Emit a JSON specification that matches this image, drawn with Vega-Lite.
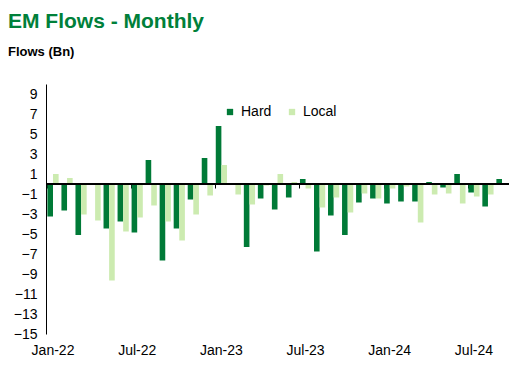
{
  "$schema": "https://vega.github.io/schema/vega-lite/v6.json",
  "width": 463,
  "height": 250,
  "padding": {"left": 8, "top": 11, "right": 15, "bottom": 5},
  "title": {
    "text": "EM Flows - Monthly",
    "subtitle": "Flows (Bn)",
    "anchor": "start",
    "frame": "bounds",
    "font": "Liberation Sans",
    "fontSize": 21,
    "fontWeight": "bold",
    "color": "#00803A",
    "subtitleFont": "Liberation Sans",
    "subtitleFontSize": 13,
    "subtitleFontWeight": "bold",
    "subtitleColor": "#000000",
    "subtitlePadding": 14,
    "offset": 25
  },
  "data": {
    "values": [
      {"month": "Jan-22", "series": "Hard", "value": -3.25}, {"month": "Jan-22", "series": "Local", "value": 1.0},
      {"month": "Feb-22", "series": "Hard", "value": -2.65}, {"month": "Feb-22", "series": "Local", "value": 0.6},
      {"month": "Mar-22", "series": "Hard", "value": -5.1}, {"month": "Mar-22", "series": "Local", "value": -3.05},
      {"month": "Apr-22", "series": "Hard", "value": 0}, {"month": "Apr-22", "series": "Local", "value": -3.65},
      {"month": "May-22", "series": "Hard", "value": -4.45}, {"month": "May-22", "series": "Local", "value": -9.65},
      {"month": "Jun-22", "series": "Hard", "value": -3.75}, {"month": "Jun-22", "series": "Local", "value": -4.75},
      {"month": "Jul-22", "series": "Hard", "value": -4.85}, {"month": "Jul-22", "series": "Local", "value": -3.35},
      {"month": "Aug-22", "series": "Hard", "value": 2.4}, {"month": "Aug-22", "series": "Local", "value": -2.15},
      {"month": "Sep-22", "series": "Hard", "value": -7.65}, {"month": "Sep-22", "series": "Local", "value": -3.75},
      {"month": "Oct-22", "series": "Hard", "value": -4.45}, {"month": "Oct-22", "series": "Local", "value": -5.65},
      {"month": "Nov-22", "series": "Hard", "value": -1.55}, {"month": "Nov-22", "series": "Local", "value": -3.05},
      {"month": "Dec-22", "series": "Hard", "value": 2.6}, {"month": "Dec-22", "series": "Local", "value": -1.15},
      {"month": "Jan-23", "series": "Hard", "value": 5.8}, {"month": "Jan-23", "series": "Local", "value": 1.9},
      {"month": "Feb-23", "series": "Hard", "value": 0.1}, {"month": "Feb-23", "series": "Local", "value": -1.05},
      {"month": "Mar-23", "series": "Hard", "value": -6.3}, {"month": "Mar-23", "series": "Local", "value": -2.05},
      {"month": "Apr-23", "series": "Hard", "value": -1.45}, {"month": "Apr-23", "series": "Local", "value": -0.15},
      {"month": "May-23", "series": "Hard", "value": -2.55}, {"month": "May-23", "series": "Local", "value": 1.0},
      {"month": "Jun-23", "series": "Hard", "value": -1.35}, {"month": "Jun-23", "series": "Local", "value": 0.2},
      {"month": "Jul-23", "series": "Hard", "value": 0.5}, {"month": "Jul-23", "series": "Local", "value": -0.45},
      {"month": "Aug-23", "series": "Hard", "value": -6.75}, {"month": "Aug-23", "series": "Local", "value": -2.35},
      {"month": "Sep-23", "series": "Hard", "value": -3.15}, {"month": "Sep-23", "series": "Local", "value": -1.35},
      {"month": "Oct-23", "series": "Hard", "value": -5.1}, {"month": "Oct-23", "series": "Local", "value": -2.85},
      {"month": "Nov-23", "series": "Hard", "value": -1.85}, {"month": "Nov-23", "series": "Local", "value": -0.95},
      {"month": "Dec-23", "series": "Hard", "value": -1.45}, {"month": "Dec-23", "series": "Local", "value": -1.45},
      {"month": "Jan-24", "series": "Hard", "value": -1.95}, {"month": "Jan-24", "series": "Local", "value": -0.45},
      {"month": "Feb-24", "series": "Hard", "value": -1.75}, {"month": "Feb-24", "series": "Local", "value": -0.25},
      {"month": "Mar-24", "series": "Hard", "value": -1.75}, {"month": "Mar-24", "series": "Local", "value": -3.85},
      {"month": "Apr-24", "series": "Hard", "value": 0.2}, {"month": "Apr-24", "series": "Local", "value": -1.05},
      {"month": "May-24", "series": "Hard", "value": -0.35}, {"month": "May-24", "series": "Local", "value": -0.95},
      {"month": "Jun-24", "series": "Hard", "value": 1.0}, {"month": "Jun-24", "series": "Local", "value": -1.95},
      {"month": "Jul-24", "series": "Hard", "value": -0.85}, {"month": "Jul-24", "series": "Local", "value": -1.25},
      {"month": "Aug-24", "series": "Hard", "value": -2.25}, {"month": "Aug-24", "series": "Local", "value": -1.05},
      {"month": "Sep-24", "series": "Hard", "value": 0.5}, {"month": "Sep-24", "series": "Local", "value": 0}
    ]
  },
  "layer": [
    {
      "mark": {"type": "bar"},
      "encoding": {
        "x": {
          "field": "month",
          "type": "ordinal",
          "sort": null,
          "scale": {"paddingInner": 0.2, "paddingOuter": 0.1},
          "axis": {
            "orient": "bottom",
            "values": ["Jan-22", "Jul-22", "Jan-23", "Jul-23", "Jan-24", "Jul-24"],
            "domain": false,
            "ticks": false,
            "labelAngle": 0,
            "labelFontSize": 14,
            "labelPadding": 9,
            "labelColor": "#000000",
            "title": null
          }
        },
        "xOffset": {"field": "series", "sort": ["Hard", "Local"]},
        "y": {
          "field": "value",
          "type": "quantitative",
          "scale": {"domain": [-15, 10], "nice": false, "zero": false},
          "axis": {
            "values": [-15, -13, -11, -9, -7, -5, -3, -1, 1, 3, 5, 7, 9],
            "tickCount": 30,
            "title": null,
            "grid": false,
            "ticks": false,
            "domainColor": "#000000",
            "domainWidth": 1,
            "labelFontSize": 14,
            "labelPadding": 9,
            "labelColor": "#000000",
            "labelOverlap": false,
            "minExtent": 38,
            "maxExtent": 38
          }
        },
        "color": {
          "field": "series",
          "type": "nominal",
          "scale": {"domain": ["Hard", "Local"], "range": ["#007A37", "#CCEBB0"]},
          "legend": {
            "orient": "none",
            "legendX": 177,
            "legendY": 21,
            "direction": "horizontal",
            "title": null,
            "symbolType": "square",
            "symbolSize": 40,
            "symbolStrokeWidth": 0,
            "labelFontSize": 14,
            "labelColor": "#000000",
            "labelOffset": 4,
            "columnPadding": 13
          }
        }
      }
    },
    {
      "mark": {"type": "rule", "color": "#000000", "strokeWidth": 1.3},
      "encoding": {"y": {"datum": 0}}
    },
    {
      "mark": {"type": "point", "opacity": 0},
      "encoding": {
        "x": {
          "field": "month",
          "type": "ordinal",
          "sort": null,
          "axis": {
            "orient": "top",
            "offset": -100,
            "values": ["Jan-22", "Jul-22", "Jan-23", "Jul-23", "Jan-24", "Jul-24"],
            "labels": false,
            "domain": false,
            "ticks": true,
            "tickSize": -4,
            "tickColor": "#000000",
            "tickWidth": 1,
            "bandPosition": 0,
            "title": null
          }
        }
      }
    }
  ],
  "resolve": {"axis": {"x": "independent"}},
  "config": {
    "view": {"stroke": null},
    "font": "Liberation Sans",
    "axis": {"grid": false}
  }
}
